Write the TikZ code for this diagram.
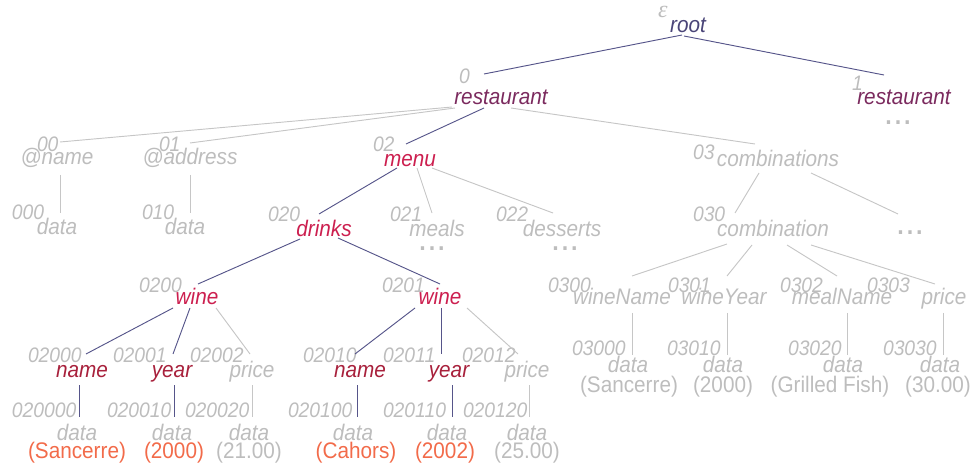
\documentclass[tikz,border=0pt]{standalone}
\usepackage{fontspec}
\setmainfont{Liberation Sans}[FakeStretch=0.92]
\newfontfamily\epsfont{Liberation Serif}
\usetikzlibrary{calc}
\definecolor{cRoot}{HTML}{4A4578}
\definecolor{cRest}{HTML}{7B2A5E}
\definecolor{cMenu}{HTML}{CC1F4F}
\definecolor{cName}{HTML}{A8213C}
\definecolor{cVal}{HTML}{F26B4A}
\definecolor{cGray}{HTML}{BDBDBD}
\definecolor{cEdge}{HTML}{56558A}
\definecolor{cLine}{HTML}{C6C6C6}
\newcommand\moredots{.\kern2.2pt.\kern2.2pt.}
\begin{document}
\begin{tikzpicture}[x=0.75pt,y=-0.75pt,
  every node/.style={inner sep=0pt,outer sep=0pt},
  word/.style={anchor=base,font=\fontsize{16.9}{18}\selectfont\itshape},
  gword/.style={word,text=cGray},
  val/.style={anchor=base,font=\fontsize{16.9}{18}\selectfont},
  idx/.style={anchor=base west,text=cGray,font=\fontsize{15.75}{17}\selectfont\itshape},
  more/.style={anchor=base,text=cGray,font=\fontsize{19}{20}\selectfont\bfseries},
  hot/.style={draw=cEdge,line width=0.7pt},
  cold/.style={draw=cLine,line width=0.7pt}]
\useasboundingbox (0,0) rectangle (978,470);

% ---- element nodes ----
\node[word,text=cRoot] (root) at (688,33) {root};
\node[word,text=cRest] (r0) at (501,105) {restaurant};
\node[word,text=cRest] (r1) at (904,105) {restaurant};
\node[more] (m1) at (898,125) {\moredots};

\node[gword] (an) at (57,165) {@name};
\node[gword] (aa) at (190,165) {@address};
\node[word,text=cMenu] (menu) at (410,167) {menu};
\node[gword] (comb) at (778,167) {combinations};

\node[gword] (d00) at (57,235) {data};
\node[gword] (d01) at (185,235) {data};
\node[word,text=cMenu] (drinks) at (324,237) {drinks};
\node[gword] (meals) at (437,237) {meals};
\node[more] (m2) at (432,251) {\moredots};
\node[gword] (dess) at (562,237) {desserts};
\node[more] (m3) at (565,251) {\moredots};
\node[gword] (combi) at (773,237) {combination};
\node[more] (m4) at (910,235) {\moredots};

\node[word,text=cMenu] (wine0) at (197,305) {wine};
\node[word,text=cMenu] (wine1) at (440,305) {wine};
\node[gword] (wname) at (622,305) {wineName};
\node[gword] (wyear) at (724,305) {wineYear};
\node[gword] (mname) at (842,305) {mealName};
\node[gword] (cprice) at (944,305) {price};

\node[word,text=cName] (name0) at (82,377) {name};
\node[word,text=cName] (year0) at (172,377) {year};
\node[gword] (price0) at (252,377) {price};
\node[word,text=cName] (name1) at (360,377) {name};
\node[word,text=cName] (year1) at (449,377) {year};
\node[gword] (price1) at (527,377) {price};

\node[gword] (cd0) at (628,372) {data};
\node[val,text=cGray] (cv0) at (629,392) {(Sancerre)};
\node[gword] (cd1) at (723,372) {data};
\node[val,text=cGray] (cv1) at (723,392) {(2000)};
\node[gword] (cd2) at (843,372) {data};
\node[val,text=cGray] (cv2) at (830,392) {(Grilled Fish)};
\node[gword] (cd3) at (940,372) {data};
\node[val,text=cGray] (cv3) at (938,392) {(30.00)};

\node[gword] (dn0) at (77,440) {data};
\node[val,text=cVal] (vn0) at (77,458) {(Sancerre)};
\node[gword] (dy0) at (172,440) {data};
\node[val,text=cVal] (vy0) at (174,458) {(2000)};
\node[gword] (dp0) at (249,440) {data};
\node[val,text=cGray] (vp0) at (249,458) {(21.00)};
\node[gword] (dn1) at (353,440) {data};
\node[val,text=cVal] (vn1) at (356,458) {(Cahors)};
\node[gword] (dy1) at (447,440) {data};
\node[val,text=cVal] (vy1) at (445,458) {(2002)};
\node[gword] (dp1) at (527,440) {data};
\node[val,text=cGray] (vp1) at (527,458) {(25.00)};

% ---- Dewey position labels ----
\node[idx,font=\epsfont\fontsize{18}{19}\selectfont\itshape] (leps) at (658,18) {ε};
\node[idx] (l0) at (459,84) {0};
\node[idx] (l1) at (852,91) {1};
\node[idx] (l00) at (37,152) {00};
\node[idx] (l01) at (159,152) {01};
\node[idx] (l02) at (373,152) {02};
\node[idx] (l03) at (693,160) {03};
\node[idx] (l000) at (12,220) {000};
\node[idx] (l010) at (142,220) {010};
\node[idx] (l020) at (268,222) {020};
\node[idx] (l021) at (390,222) {021};
\node[idx] (l022) at (496,222) {022};
\node[idx] (l030) at (693,222) {030};
\node[idx] (l0200) at (139,292) {0200};
\node[idx] (l0201) at (382,292) {0201};
\node[idx] (l0300) at (548,293) {0300};
\node[idx] (l0301) at (668,293) {0301};
\node[idx] (l0302) at (780,293) {0302};
\node[idx] (l0303) at (867,293) {0303};
\node[idx] (l02000) at (28,362) {02000};
\node[idx] (l02001) at (113,362) {02001};
\node[idx] (l02002) at (190,362) {02002};
\node[idx] (l02010) at (303,362) {02010};
\node[idx] (l02011) at (383,362) {02011};
\node[idx] (l02012) at (462,362) {02012};
\node[idx] (l03000) at (572,355) {03000};
\node[idx] (l03010) at (667,355) {03010};
\node[idx] (l03020) at (788,355) {03020};
\node[idx] (l03030) at (883,355) {03030};
\node[idx] (l020000) at (12,417) {020000};
\node[idx] (l020010) at (107,417) {020010};
\node[idx] (l020020) at (185,417) {020020};
\node[idx] (l020100) at (288,417) {020100};
\node[idx] (l020110) at (383,417) {020110};
\node[idx] (l020120) at (463,417) {020120};

% ---- edges ----
\draw[hot] ($(root.base)+(-6,2)$) -- ($(r0.base)+(-17,-31)$);
\draw[hot] ($(root.base)+(-4,3)$) -- ($(r1.base)+(-20,-30)$);
\draw[cold] ($(r0.base)+(-49,2)$) -- ($(an.base)+(3,-23)$);
\draw[cold] ($(r0.base)+(-46,3)$) -- ($(aa.base)+(0,-22)$);
\draw[hot] ($(r0.base)+(-17,3)$) -- ($(menu.base)+(-4,-23)$);
\draw[cold] ($(r0.base)+(10,3)$) -- ($(comb.base)+(-23,-23)$);
\draw[cold] ($(an.base)+(3,10)$) -- ($(d00.base)+(3,-22)$);
\draw[cold] ($(aa.base)+(0,10)$) -- ($(d01.base)+(5,-22)$);
\draw[hot] ($(menu.base)+(-13,1)$) -- ($(drinks.base)+(-5,-23)$);
\draw[cold] ($(menu.base)+(7,1)$) -- ($(meals.base)+(-5,-24)$);
\draw[cold] ($(menu.base)+(22,1)$) -- ($(dess.base)+(-9,-24)$);
\draw[cold] ($(comb.base)+(-19,6)$) -- ($(combi.base)+(-38,-24)$);
\draw[cold] ($(comb.base)+(33,6)$) -- ($(m4.base)+(-12,-21)$);
\draw[hot] ($(drinks.base)+(-24,2)$) -- ($(wine0.base)+(1,-21)$);
\draw[hot] ($(drinks.base)+(14,1)$) -- ($(wine1.base)+(0,-21)$);
\draw[cold] ($(combi.base)+(-46,7)$) -- ($(wname.base)+(10,-29)$);
\draw[cold] ($(combi.base)+(-21,8)$) -- ($(wyear.base)+(3,-29)$);
\draw[cold] ($(combi.base)+(14,8)$) -- ($(mname.base)+(-5,-29)$);
\draw[cold] ($(combi.base)+(38,8)$) -- ($(cprice.base)+(-9,-21)$);
\draw[hot] ($(wine0.base)+(-24,3)$) -- ($(name0.base)+(4,-23)$);
\draw[hot] ($(wine0.base)+(-7,3)$) -- ($(year0.base)+(1,-23)$);
\draw[cold] ($(wine0.base)+(19,3)$) -- ($(price0.base)+(-2,-23)$);
\draw[hot] ($(wine1.base)+(-25,3)$) -- ($(name1.base)+(-5,-23)$);
\draw[hot] ($(wine1.base)+(1,3)$) -- ($(year1.base)+(-8,-23)$);
\draw[cold] ($(wine1.base)+(27,3)$) -- ($(price1.base)+(-9,-23)$);
\draw[cold] ($(wname.base)+(10,8)$) -- ($(cd0.base)+(4,-17)$);
\draw[cold] ($(wyear.base)+(3,8)$) -- ($(cd1.base)+(4,-17)$);
\draw[cold] ($(mname.base)+(5,8)$) -- ($(cd2.base)+(4,-17)$);
\draw[cold] ($(cprice.base)+(-1,8)$) -- ($(cd3.base)+(3,-17)$);
\draw[hot] ($(name0.base)+(-3,8)$) -- ($(dn0.base)+(2,-23)$);
\draw[hot] ($(year0.base)+(2,8)$) -- ($(dy0.base)+(2,-23)$);
\draw[cold] ($(price0.base)+(0,8)$) -- ($(dp0.base)+(3,-23)$);
\draw[hot] ($(name1.base)+(-3,8)$) -- ($(dn1.base)+(4,-23)$);
\draw[hot] ($(year1.base)+(3,8)$) -- ($(dy1.base)+(5,-23)$);
\draw[cold] ($(price1.base)+(2,8)$) -- ($(dp1.base)+(2,-23)$);
\end{tikzpicture}
\end{document}
